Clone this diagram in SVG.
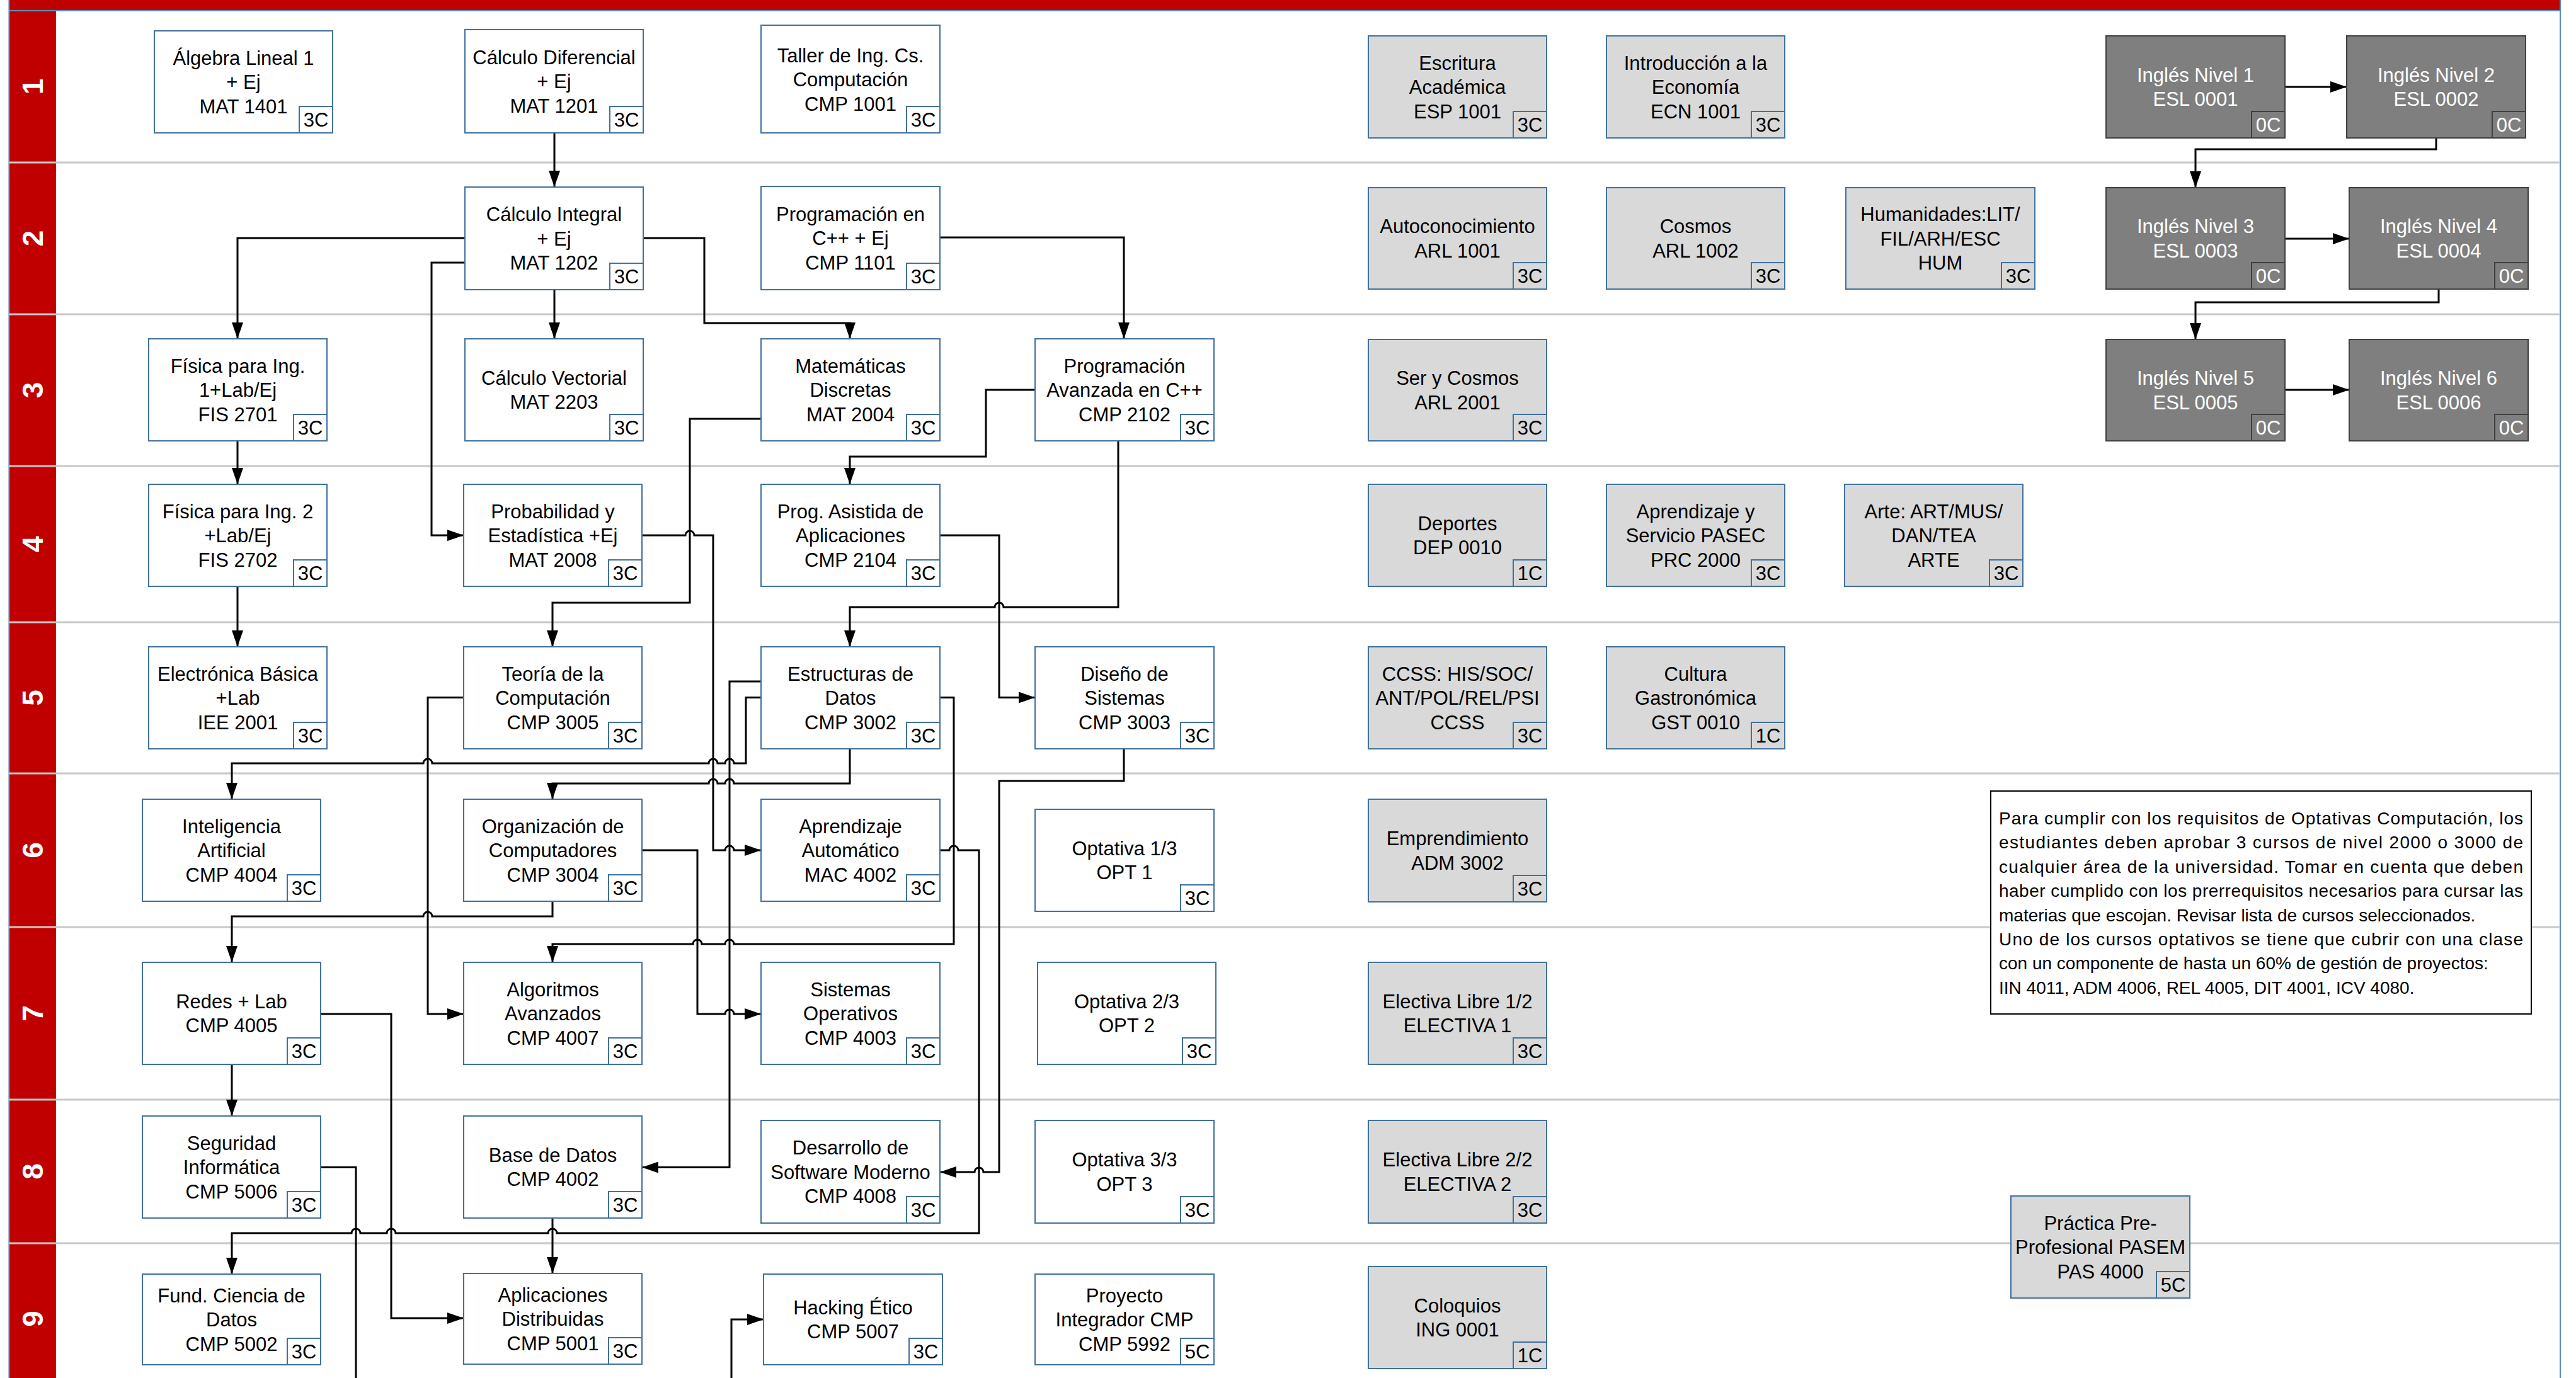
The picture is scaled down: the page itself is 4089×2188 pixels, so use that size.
<svg xmlns="http://www.w3.org/2000/svg" width="4089" height="2188" viewBox="0 0 4089 2188">
<style>
text{font-family:"Liberation Sans",Arial,sans-serif;font-size:31px;text-anchor:middle;fill:#000}
.b{fill:#fff;stroke:#41719C;stroke-width:2}
.cr{fill:#fff;stroke:#41719C;stroke-width:2}
.g .b,.g .cr{fill:#D9D9D9}
.d .b,.d .cr{fill:#7F7F7F;stroke:#404040}
.d text{fill:#fff}
.lane{stroke:#c8c8c8;stroke-width:3}
.rl{font-size:46px;font-weight:bold;fill:#fff}
.note{font-size:28px;text-anchor:start}
#connectors path{fill:none;stroke:#000;stroke-width:3;marker-end:url(#a)}
</style>
<defs>
<marker id="a" markerUnits="userSpaceOnUse" markerWidth="26" markerHeight="18" refX="26" refY="9" orient="auto" viewBox="0 0 26 18"><path d="M0,0 L26,9 L0,18 z" fill="#000"/></marker>
</defs>
<rect x="0" y="0" width="4089" height="2188" fill="#fff"/>
<g id="lanes">
<rect x="14" y="0" width="4050" height="16" fill="#C00000"/>
<rect x="15" y="17" width="74" height="2180" fill="#C00000"/>
<line x1="14" y1="17" x2="4064" y2="17" stroke="#5b8db8" stroke-width="2"/>
<line x1="14" y1="0" x2="14" y2="2188" stroke="#a8bfd3" stroke-width="2"/>
<line x1="4064" y1="0" x2="4064" y2="2188" stroke="#5b8db8" stroke-width="2"/>
<line class="lane" x1="14" y1="258" x2="4064" y2="258"/>
<line class="lane" x1="14" y1="499" x2="4064" y2="499"/>
<line class="lane" x1="14" y1="740" x2="4064" y2="740"/>
<line class="lane" x1="14" y1="988" x2="4064" y2="988"/>
<line class="lane" x1="14" y1="1228" x2="4064" y2="1228"/>
<line class="lane" x1="14" y1="1472" x2="4064" y2="1472"/>
<line class="lane" x1="14" y1="1746" x2="4064" y2="1746"/>
<line class="lane" x1="14" y1="1974" x2="4064" y2="1974"/>
<text class="rl" transform="translate(52,137.5) rotate(-90)" dy="0.35em">1</text>
<text class="rl" transform="translate(52,378.5) rotate(-90)" dy="0.35em">2</text>
<text class="rl" transform="translate(52,619.5) rotate(-90)" dy="0.35em">3</text>
<text class="rl" transform="translate(52,864) rotate(-90)" dy="0.35em">4</text>
<text class="rl" transform="translate(52,1108) rotate(-90)" dy="0.35em">5</text>
<text class="rl" transform="translate(52,1350) rotate(-90)" dy="0.35em">6</text>
<text class="rl" transform="translate(52,1609) rotate(-90)" dy="0.35em">7</text>
<text class="rl" transform="translate(52,1860) rotate(-90)" dy="0.35em">8</text>
<text class="rl" transform="translate(52,2094) rotate(-90)" dy="0.35em">9</text>
</g>
<g id="connectors">
<path d="M880,211 V297"/>
<path d="M738,378 H377 V538"/>
<path d="M880,460 V538"/>
<path d="M738,417 H685 V850 H736"/>
<path d="M1021,378 H1118 V513 H1349 V538"/>
<path d="M1492,377 H1784 V538"/>
<path d="M377,700 V769"/>
<path d="M377,931 V1027"/>
<path d="M1643,619 H1565 V725 H1349 V769"/>
<path d="M1208,665 H1095 V957 H877 V1027"/>
<path d="M1019,850 H1088 A7,7 0 0 1 1102,850 H1132 V1350 H1151 A7,7 0 0 1 1165,1350 H1208"/>
<path d="M1492,850 H1586 V1107.5 H1643"/>
<path d="M1775,700 V964 H1593 A7,7 0 0 0 1579,964 H1349 V1027"/>
<path d="M736,1107.5 H679 V1610 H736"/>
<path d="M1208,1107.5 H1184 V1212 H1165 A7,7 0 0 0 1151,1212 H1139 A7,7 0 0 0 1125,1212 H686 A7,7 0 0 0 672,1212 H368 V1269"/>
<path d="M1208,1082 H1158 V1853.5 H1019"/>
<path d="M1349,1189 V1244 H1165 A7,7 0 0 0 1151,1244 H1139 A7,7 0 0 0 1125,1244 H877 V1269"/>
<path d="M1492,1107.5 H1514 V1499 H1165 A7,7 0 0 0 1151,1499 H1114 A7,7 0 0 0 1100,1499 H877 V1528"/>
<path d="M877,1431 V1455 H686 A7,7 0 0 0 672,1455 H368 V1528"/>
<path d="M1019,1350 H1107 V1610 H1151 A7,7 0 0 1 1165,1610 H1208"/>
<path d="M1784,1189 V1240 H1586 V1861 H1561 A7,7 0 0 0 1547,1861 H1492"/>
<path d="M1492,1350 H1507 A7,7 0 0 1 1521,1350 H1554 V1958 H884 A7,7 0 0 0 870,1958 H628 A7,7 0 0 0 614,1958 H572 A7,7 0 0 0 558,1958 H368 V2023"/>
<path d="M509,1610 H621 V2093 H736"/>
<path d="M368,1691 V1772"/>
<path d="M877,1935 V2022"/>
<path d="M509,1853.5 H565 V2220 H1161 V2095 H1212"/>
<path d="M3627,138 H3725"/>
<path d="M3867,219 V237 H3485 V298"/>
<path d="M3627,379 H3729"/>
<path d="M3871,459 V480 H3485 V539"/>
<path d="M3627,619 H3729"/>
</g>
<!-- Column A -->
<g id="mat1401"><rect class="b" x="245" y="49" width="283" height="162"/><rect class="cr" x="475" y="169" width="53" height="42"/><text><tspan x="386.5" y="102.5">Álgebra Lineal 1</tspan><tspan x="386.5" y="141">+ Ej</tspan><tspan x="386.5" y="179.5">MAT 1401</tspan></text><text x="501.5" y="201">3C</text></g>
<g id="fis2701"><rect class="b" x="236" y="538" width="283" height="162"/><rect class="cr" x="466" y="658" width="53" height="42"/><text><tspan x="377.5" y="591.5">Física para Ing.</tspan><tspan x="377.5" y="630">1+Lab/Ej</tspan><tspan x="377.5" y="668.5">FIS 2701</tspan></text><text x="492.5" y="690">3C</text></g>
<g id="fis2702"><rect class="b" x="236" y="769" width="283" height="162"/><rect class="cr" x="466" y="889" width="53" height="42"/><text><tspan x="377.5" y="822.5">Física para Ing. 2</tspan><tspan x="377.5" y="861">+Lab/Ej</tspan><tspan x="377.5" y="899.5">FIS 2702</tspan></text><text x="492.5" y="921">3C</text></g>
<g id="iee2001"><rect class="b" x="236" y="1027" width="283" height="162"/><rect class="cr" x="466" y="1147" width="53" height="42"/><text><tspan x="377.5" y="1080.5">Electrónica Básica</tspan><tspan x="377.5" y="1119">+Lab</tspan><tspan x="377.5" y="1157.5">IEE 2001</tspan></text><text x="492.5" y="1179">3C</text></g>
<g id="cmp4004"><rect class="b" x="226" y="1269" width="283" height="162"/><rect class="cr" x="456" y="1389" width="53" height="42"/><text><tspan x="367.5" y="1322.5">Inteligencia</tspan><tspan x="367.5" y="1361">Artificial</tspan><tspan x="367.5" y="1399.5">CMP 4004</tspan></text><text x="482.5" y="1421">3C</text></g>
<g id="cmp4005"><rect class="b" x="226" y="1528" width="283" height="162"/><rect class="cr" x="456" y="1648" width="53" height="42"/><text><tspan x="367.5" y="1600.75">Redes + Lab</tspan><tspan x="367.5" y="1639.25">CMP 4005</tspan></text><text x="482.5" y="1680">3C</text></g>
<g id="cmp5006"><rect class="b" x="226" y="1772" width="283" height="162"/><rect class="cr" x="456" y="1892" width="53" height="42"/><text><tspan x="367.5" y="1825.5">Seguridad</tspan><tspan x="367.5" y="1864">Informática</tspan><tspan x="367.5" y="1902.5">CMP 5006</tspan></text><text x="482.5" y="1924">3C</text></g>
<g id="cmp5002"><rect class="b" x="226" y="2023" width="283" height="144"/><rect class="cr" x="456" y="2125" width="53" height="42"/><text><tspan x="367.5" y="2067.5">Fund. Ciencia de</tspan><tspan x="367.5" y="2106">Datos</tspan><tspan x="367.5" y="2144.5">CMP 5002</tspan></text><text x="482.5" y="2157">3C</text></g>
<!-- Column B -->
<g id="mat1201"><rect class="b" x="738" y="47" width="283" height="164"/><rect class="cr" x="968" y="169" width="53" height="42"/><text><tspan x="879.5" y="101.5">Cálculo Diferencial</tspan><tspan x="879.5" y="140">+ Ej</tspan><tspan x="879.5" y="178.5">MAT 1201</tspan></text><text x="994.5" y="201">3C</text></g>
<g id="mat1202"><rect class="b" x="738" y="297" width="283" height="163"/><rect class="cr" x="968" y="418" width="53" height="42"/><text><tspan x="879.5" y="351">Cálculo Integral</tspan><tspan x="879.5" y="389.5">+ Ej</tspan><tspan x="879.5" y="428">MAT 1202</tspan></text><text x="994.5" y="450">3C</text></g>
<g id="mat2203"><rect class="b" x="738" y="538" width="283" height="162"/><rect class="cr" x="968" y="658" width="53" height="42"/><text><tspan x="879.5" y="610.75">Cálculo Vectorial</tspan><tspan x="879.5" y="649.25">MAT 2203</tspan></text><text x="994.5" y="690">3C</text></g>
<g id="mat2008"><rect class="b" x="736" y="769" width="283" height="162"/><rect class="cr" x="966" y="889" width="53" height="42"/><text><tspan x="877.5" y="822.5">Probabilidad y</tspan><tspan x="877.5" y="861">Estadística +Ej</tspan><tspan x="877.5" y="899.5">MAT 2008</tspan></text><text x="992.5" y="921">3C</text></g>
<g id="cmp3005"><rect class="b" x="736" y="1027" width="283" height="162"/><rect class="cr" x="966" y="1147" width="53" height="42"/><text><tspan x="877.5" y="1080.5">Teoría de la</tspan><tspan x="877.5" y="1119">Computación</tspan><tspan x="877.5" y="1157.5">CMP 3005</tspan></text><text x="992.5" y="1179">3C</text></g>
<g id="cmp3004"><rect class="b" x="736" y="1269" width="283" height="162"/><rect class="cr" x="966" y="1389" width="53" height="42"/><text><tspan x="877.5" y="1322.5">Organización de</tspan><tspan x="877.5" y="1361">Computadores</tspan><tspan x="877.5" y="1399.5">CMP 3004</tspan></text><text x="992.5" y="1421">3C</text></g>
<g id="cmp4007"><rect class="b" x="736" y="1528" width="283" height="162"/><rect class="cr" x="966" y="1648" width="53" height="42"/><text><tspan x="877.5" y="1581.5">Algoritmos</tspan><tspan x="877.5" y="1620">Avanzados</tspan><tspan x="877.5" y="1658.5">CMP 4007</tspan></text><text x="992.5" y="1680">3C</text></g>
<g id="cmp4002"><rect class="b" x="736" y="1772" width="283" height="162"/><rect class="cr" x="966" y="1892" width="53" height="42"/><text><tspan x="877.5" y="1844.75">Base de Datos</tspan><tspan x="877.5" y="1883.25">CMP 4002</tspan></text><text x="992.5" y="1924">3C</text></g>
<g id="cmp5001"><rect class="b" x="736" y="2022" width="283" height="144"/><rect class="cr" x="966" y="2124" width="53" height="42"/><text><tspan x="877.5" y="2066.5">Aplicaciones</tspan><tspan x="877.5" y="2105">Distribuidas</tspan><tspan x="877.5" y="2143.5">CMP 5001</tspan></text><text x="992.5" y="2156">3C</text></g>
<!-- Column C -->
<g id="cmp1001"><rect class="b" x="1208" y="40" width="284" height="171"/><rect class="cr" x="1439" y="169" width="53" height="42"/><text><tspan x="1350" y="98.5">Taller de Ing. Cs.</tspan><tspan x="1350" y="137">Computación</tspan><tspan x="1350" y="175.5">CMP 1001</tspan></text><text x="1465.5" y="201">3C</text></g>
<g id="cmp1101"><rect class="b" x="1208" y="296" width="284" height="164"/><rect class="cr" x="1439" y="418" width="53" height="42"/><text><tspan x="1350" y="350.5">Programación en</tspan><tspan x="1350" y="389">C++ + Ej</tspan><tspan x="1350" y="427.5">CMP 1101</tspan></text><text x="1465.5" y="450">3C</text></g>
<g id="mat2004"><rect class="b" x="1208" y="538" width="284" height="162"/><rect class="cr" x="1439" y="658" width="53" height="42"/><text><tspan x="1350" y="591.5">Matemáticas</tspan><tspan x="1350" y="630">Discretas</tspan><tspan x="1350" y="668.5">MAT 2004</tspan></text><text x="1465.5" y="690">3C</text></g>
<g id="cmp2104"><rect class="b" x="1208" y="769" width="284" height="162"/><rect class="cr" x="1439" y="889" width="53" height="42"/><text><tspan x="1350" y="822.5">Prog. Asistida de</tspan><tspan x="1350" y="861">Aplicaciones</tspan><tspan x="1350" y="899.5">CMP 2104</tspan></text><text x="1465.5" y="921">3C</text></g>
<g id="cmp3002"><rect class="b" x="1208" y="1027" width="284" height="162"/><rect class="cr" x="1439" y="1147" width="53" height="42"/><text><tspan x="1350" y="1080.5">Estructuras de</tspan><tspan x="1350" y="1119">Datos</tspan><tspan x="1350" y="1157.5">CMP 3002</tspan></text><text x="1465.5" y="1179">3C</text></g>
<g id="mac4002"><rect class="b" x="1208" y="1269" width="284" height="162"/><rect class="cr" x="1439" y="1389" width="53" height="42"/><text><tspan x="1350" y="1322.5">Aprendizaje</tspan><tspan x="1350" y="1361">Automático</tspan><tspan x="1350" y="1399.5">MAC 4002</tspan></text><text x="1465.5" y="1421">3C</text></g>
<g id="cmp4003"><rect class="b" x="1208" y="1528" width="284" height="162"/><rect class="cr" x="1439" y="1648" width="53" height="42"/><text><tspan x="1350" y="1581.5">Sistemas</tspan><tspan x="1350" y="1620">Operativos</tspan><tspan x="1350" y="1658.5">CMP 4003</tspan></text><text x="1465.5" y="1680">3C</text></g>
<g id="cmp4008"><rect class="b" x="1208" y="1779" width="284" height="163"/><rect class="cr" x="1439" y="1900" width="53" height="42"/><text><tspan x="1350" y="1833">Desarrollo de</tspan><tspan x="1350" y="1871.5">Software Moderno</tspan><tspan x="1350" y="1910">CMP 4008</tspan></text><text x="1465.5" y="1932">3C</text></g>
<g id="cmp5007"><rect class="b" x="1212" y="2023" width="284" height="144"/><rect class="cr" x="1443" y="2125" width="53" height="42"/><text><tspan x="1354" y="2086.75">Hacking Ético</tspan><tspan x="1354" y="2125.25">CMP 5007</tspan></text><text x="1469.5" y="2157">3C</text></g>
<!-- Column D -->
<g id="cmp2102"><rect class="b" x="1643" y="538" width="284" height="162"/><rect class="cr" x="1874" y="658" width="53" height="42"/><text><tspan x="1785" y="591.5">Programación</tspan><tspan x="1785" y="630">Avanzada en C++</tspan><tspan x="1785" y="668.5">CMP 2102</tspan></text><text x="1900.5" y="690">3C</text></g>
<g id="cmp3003"><rect class="b" x="1643" y="1027" width="284" height="162"/><rect class="cr" x="1874" y="1147" width="53" height="42"/><text><tspan x="1785" y="1080.5">Diseño de</tspan><tspan x="1785" y="1119">Sistemas</tspan><tspan x="1785" y="1157.5">CMP 3003</tspan></text><text x="1900.5" y="1179">3C</text></g>
<g id="opt1"><rect class="b" x="1643" y="1285" width="284" height="162"/><rect class="cr" x="1874" y="1405" width="53" height="42"/><text><tspan x="1785" y="1357.75">Optativa 1/3</tspan><tspan x="1785" y="1396.25">OPT 1</tspan></text><text x="1900.5" y="1437">3C</text></g>
<g id="opt2"><rect class="b" x="1647" y="1528" width="283" height="162"/><rect class="cr" x="1877" y="1648" width="53" height="42"/><text><tspan x="1788.5" y="1600.75">Optativa 2/3</tspan><tspan x="1788.5" y="1639.25">OPT 2</tspan></text><text x="1903.5" y="1680">3C</text></g>
<g id="opt3"><rect class="b" x="1643" y="1779" width="284" height="163"/><rect class="cr" x="1874" y="1900" width="53" height="42"/><text><tspan x="1785" y="1852.25">Optativa 3/3</tspan><tspan x="1785" y="1890.75">OPT 3</tspan></text><text x="1900.5" y="1932">3C</text></g>
<g id="cmp5992"><rect class="b" x="1643" y="2023" width="284" height="144"/><rect class="cr" x="1874" y="2125" width="53" height="42"/><text><tspan x="1785" y="2067.5">Proyecto</tspan><tspan x="1785" y="2106">Integrador CMP</tspan><tspan x="1785" y="2144.5">CMP 5992</tspan></text><text x="1900.5" y="2157">5C</text></g>
<!-- Column E (general) -->
<g id="esp1001" class="g"><rect class="b" x="2172" y="57" width="283" height="162"/><rect class="cr" x="2402" y="177" width="53" height="42"/><text><tspan x="2313.5" y="110.5">Escritura</tspan><tspan x="2313.5" y="149">Académica</tspan><tspan x="2313.5" y="187.5">ESP 1001</tspan></text><text x="2428.5" y="209">3C</text></g>
<g id="arl1001" class="g"><rect class="b" x="2172" y="298" width="283" height="161"/><rect class="cr" x="2402" y="417" width="53" height="42"/><text><tspan x="2313.5" y="370.25">Autoconocimiento</tspan><tspan x="2313.5" y="408.75">ARL 1001</tspan></text><text x="2428.5" y="449">3C</text></g>
<g id="arl2001" class="g"><rect class="b" x="2172" y="539" width="283" height="161"/><rect class="cr" x="2402" y="658" width="53" height="42"/><text><tspan x="2313.5" y="611.25">Ser y Cosmos</tspan><tspan x="2313.5" y="649.75">ARL 2001</tspan></text><text x="2428.5" y="690">3C</text></g>
<g id="dep0010" class="g"><rect class="b" x="2172" y="769" width="283" height="162"/><rect class="cr" x="2402" y="889" width="53" height="42"/><text><tspan x="2313.5" y="841.75">Deportes</tspan><tspan x="2313.5" y="880.25">DEP 0010</tspan></text><text x="2428.5" y="921">1C</text></g>
<g id="ccss" class="g"><rect class="b" x="2172" y="1027" width="283" height="162"/><rect class="cr" x="2402" y="1147" width="53" height="42"/><text><tspan x="2313.5" y="1080.5">CCSS: HIS/SOC/</tspan><tspan x="2313.5" y="1119">ANT/POL/REL/PSI</tspan><tspan x="2313.5" y="1157.5">CCSS</tspan></text><text x="2428.5" y="1179">3C</text></g>
<g id="adm3002" class="g"><rect class="b" x="2172" y="1269" width="283" height="163"/><rect class="cr" x="2402" y="1390" width="53" height="42"/><text><tspan x="2313.5" y="1342.25">Emprendimiento</tspan><tspan x="2313.5" y="1380.75">ADM 3002</tspan></text><text x="2428.5" y="1422">3C</text></g>
<g id="electiva1" class="g"><rect class="b" x="2172" y="1528" width="283" height="162"/><rect class="cr" x="2402" y="1648" width="53" height="42"/><text><tspan x="2313.5" y="1600.75">Electiva Libre 1/2</tspan><tspan x="2313.5" y="1639.25">ELECTIVA 1</tspan></text><text x="2428.5" y="1680">3C</text></g>
<g id="electiva2" class="g"><rect class="b" x="2172" y="1779" width="283" height="163"/><rect class="cr" x="2402" y="1900" width="53" height="42"/><text><tspan x="2313.5" y="1852.25">Electiva Libre 2/2</tspan><tspan x="2313.5" y="1890.75">ELECTIVA 2</tspan></text><text x="2428.5" y="1932">3C</text></g>
<g id="ing0001" class="g"><rect class="b" x="2172" y="2011" width="283" height="162"/><rect class="cr" x="2402" y="2131" width="53" height="42"/><text><tspan x="2313.5" y="2083.75">Coloquios</tspan><tspan x="2313.5" y="2122.25">ING 0001</tspan></text><text x="2428.5" y="2163">1C</text></g>
<!-- Column F -->
<g id="ecn1001" class="g"><rect class="b" x="2550" y="57" width="283" height="162"/><rect class="cr" x="2780" y="177" width="53" height="42"/><text><tspan x="2691.5" y="110.5">Introducción a la</tspan><tspan x="2691.5" y="149">Economía</tspan><tspan x="2691.5" y="187.5">ECN 1001</tspan></text><text x="2806.5" y="209">3C</text></g>
<g id="arl1002" class="g"><rect class="b" x="2550" y="298" width="283" height="161"/><rect class="cr" x="2780" y="417" width="53" height="42"/><text><tspan x="2691.5" y="370.25">Cosmos</tspan><tspan x="2691.5" y="408.75">ARL 1002</tspan></text><text x="2806.5" y="449">3C</text></g>
<g id="prc2000" class="g"><rect class="b" x="2550" y="769" width="283" height="162"/><rect class="cr" x="2780" y="889" width="53" height="42"/><text><tspan x="2691.5" y="822.5">Aprendizaje y</tspan><tspan x="2691.5" y="861">Servicio PASEC</tspan><tspan x="2691.5" y="899.5">PRC 2000</tspan></text><text x="2806.5" y="921">3C</text></g>
<g id="gst0010" class="g"><rect class="b" x="2550" y="1027" width="283" height="162"/><rect class="cr" x="2780" y="1147" width="53" height="42"/><text><tspan x="2691.5" y="1080.5">Cultura</tspan><tspan x="2691.5" y="1119">Gastronómica</tspan><tspan x="2691.5" y="1157.5">GST 0010</tspan></text><text x="2806.5" y="1179">1C</text></g>
<!-- Column G -->
<g id="hum" class="g"><rect class="b" x="2930" y="298" width="300" height="161"/><rect class="cr" x="3177" y="417" width="53" height="42"/><text><tspan x="3080" y="351">Humanidades:LIT/</tspan><tspan x="3080" y="389.5">FIL/ARH/ESC</tspan><tspan x="3080" y="428">HUM</tspan></text><text x="3203.5" y="449">3C</text></g>
<g id="arte" class="g"><rect class="b" x="2928" y="769" width="283" height="162"/><rect class="cr" x="3158" y="889" width="53" height="42"/><text><tspan x="3069.5" y="822.5">Arte: ART/MUS/</tspan><tspan x="3069.5" y="861">DAN/TEA</tspan><tspan x="3069.5" y="899.5">ARTE</tspan></text><text x="3184.5" y="921">3C</text></g>
<!-- English -->
<g id="esl0001" class="d"><rect class="b" x="3343" y="57" width="284" height="162"/><rect class="cr" x="3574" y="177" width="53" height="42"/><text><tspan x="3485" y="129.75">Inglés Nivel 1</tspan><tspan x="3485" y="168.25">ESL 0001</tspan></text><text x="3600.5" y="209">0C</text></g>
<g id="esl0002" class="d"><rect class="b" x="3725" y="57" width="284" height="162"/><rect class="cr" x="3956" y="177" width="53" height="42"/><text><tspan x="3867" y="129.75">Inglés Nivel 2</tspan><tspan x="3867" y="168.25">ESL 0002</tspan></text><text x="3982.5" y="209">0C</text></g>
<g id="esl0003" class="d"><rect class="b" x="3343" y="298" width="284" height="161"/><rect class="cr" x="3574" y="417" width="53" height="42"/><text><tspan x="3485" y="370.25">Inglés Nivel 3</tspan><tspan x="3485" y="408.75">ESL 0003</tspan></text><text x="3600.5" y="449">0C</text></g>
<g id="esl0004" class="d"><rect class="b" x="3729" y="298" width="284" height="161"/><rect class="cr" x="3960" y="417" width="53" height="42"/><text><tspan x="3871" y="370.25">Inglés Nivel 4</tspan><tspan x="3871" y="408.75">ESL 0004</tspan></text><text x="3986.5" y="449">0C</text></g>
<g id="esl0005" class="d"><rect class="b" x="3343" y="539" width="284" height="161"/><rect class="cr" x="3574" y="658" width="53" height="42"/><text><tspan x="3485" y="611.25">Inglés Nivel 5</tspan><tspan x="3485" y="649.75">ESL 0005</tspan></text><text x="3600.5" y="690">0C</text></g>
<g id="esl0006" class="d"><rect class="b" x="3729" y="539" width="284" height="161"/><rect class="cr" x="3960" y="658" width="53" height="42"/><text><tspan x="3871" y="611.25">Inglés Nivel 6</tspan><tspan x="3871" y="649.75">ESL 0006</tspan></text><text x="3986.5" y="690">0C</text></g>
<!-- Note & practice -->
<g id="nota"><rect x="3160" y="1256" width="858" height="354" fill="#fff" stroke="#000" stroke-width="2"/>
<text class="note" x="3173" y="1309" textLength="832" lengthAdjust="spacing">Para cumplir con los requisitos de Optativas Computación, los</text>
<text class="note" x="3173" y="1347.4" textLength="832" lengthAdjust="spacing">estudiantes deben aprobar 3 cursos de nivel 2000 o 3000 de</text>
<text class="note" x="3173" y="1385.8" textLength="832" lengthAdjust="spacing">cualquier área de la universidad. Tomar en cuenta que deben</text>
<text class="note" x="3173" y="1424.2" textLength="832" lengthAdjust="spacing">haber cumplido con los prerrequisitos necesarios para cursar las</text>
<text class="note" x="3173" y="1462.6">materias que escojan. Revisar lista de cursos seleccionados.</text>
<text class="note" x="3173" y="1501" textLength="832" lengthAdjust="spacing">Uno de los cursos optativos se tiene que cubrir con una clase</text>
<text class="note" x="3173" y="1539.4">con un componente de hasta un 60% de gestión de proyectos:</text>
<text class="note" x="3173" y="1577.8">IIN 4011, ADM 4006, REL 4005, DIT 4001, ICV 4080.</text>
</g>
<g id="pas4000" class="g"><rect class="b" x="3192" y="1899" width="284" height="162"/><rect class="cr" x="3423" y="2019" width="53" height="42"/><text><tspan x="3334" y="1952.5">Práctica Pre-</tspan><tspan x="3334" y="1991">Profesional PASEM</tspan><tspan x="3334" y="2029.5">PAS 4000</tspan></text><text x="3449.5" y="2051">5C</text></g>
</svg>
